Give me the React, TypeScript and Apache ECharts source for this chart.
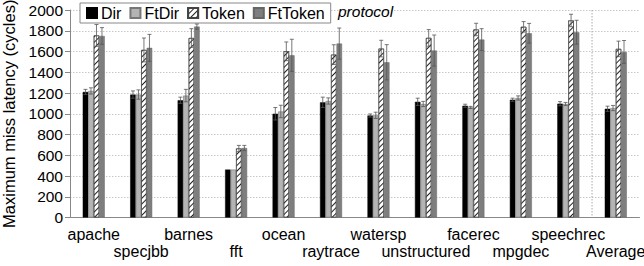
import React, { useEffect, useRef } from "react";
import * as echarts from "echarts";

const categories = ["apache", "specjbb", "barnes", "fft", "ocean", "raytrace", "watersp", "unstructured", "facerec", "mpgdec", "speechrec", "Average"];
const seriesNames = ["Dir", "FtDir", "Token", "FtToken"];
const dirValues = [1210, 1185, 1130, 462, 1000, 1110, 983, 1115, 1077, 1135, 1097, 1048];
const ftDirValues = [1220, 1185, 1175, 462, 1022, 1123, 985, 1094, 1061, 1152, 1094, 1055];
const tokenValues = [1755, 1615, 1730, 665, 1602, 1570, 1628, 1731, 1812, 1838, 1899, 1625];
const ftTokenValues = [1750, 1635, 1840, 670, 1563, 1676, 1496, 1609, 1715, 1776, 1786, 1596];
const dirErr = [25, 35, 30, 0, 60, 50, 15, 35, 15, 15, 20, 25];
const ftDirErr = [30, 45, 60, 0, 60, 30, 30, 25, 10, 20, 15, 25];
const tokenErr = [105, 115, 90, 30, 90, 95, 80, 80, 60, 50, 60, 75];
const ftTokenErr = [80, 130, 25, 25, 155, 150, 170, 150, 105, 95, 115, 110];
const yTicks = { min: 0, max: 2000, interval: 200 };

const FONT = "'Liberation Sans', Arial, Helvetica, sans-serif";
const BAR_W = 5.5;

export default function App() {
  const ref = useRef<HTMLDivElement>(null);
  useEffect(() => {
    if (!ref.current) return;
    const chart = echarts.init(ref.current, null, { renderer: "svg" });
    const values = [dirValues, ftDirValues, tokenValues, ftTokenValues];
    const errs = [dirErr, ftDirErr, tokenErr, ftTokenErr];
    const styles: any[] = [
      { color: "#000", borderColor: "#000", borderWidth: 0.5 },
      { color: "#b4b4b4", borderColor: "#777", borderWidth: 0.6 },
      {
        color: "#fff",
        borderColor: "#444",
        borderWidth: 0.6,
        decal: {
          symbol: "rect",
          symbolSize: 1,
          color: "#222",
          backgroundColor: "#fff",
          dashArrayX: [1, 0],
          dashArrayY: [1, 2.2],
          rotation: -Math.PI / 4,
        },
      },
      { color: "#7e7e7e", borderColor: "#666", borderWidth: 0.5 },
    ];
    const barSeries = seriesNames.map((name, i) => ({
      name,
      type: "bar",
      data: values[i],
      barWidth: BAR_W,
      barGap: "0%",
      itemStyle: styles[i],
      z: 2,
    }));
    const errSeries = seriesNames.map((name, i) => ({
      name: name + " err",
      type: "custom",
      z: 5,
      data: categories.map((_, j) => [j, values[i][j], errs[i][j]]),
      encode: { x: 0, y: 1 },
      renderItem: (params: any, api: any) => {
        const idx = api.value(0);
        const v = api.value(1);
        const e = api.value(2);
        if (!e) return null;
        const top = api.coord([idx, v + e]);
        const bot = api.coord([idx, v - e]);
        const x = top[0] + (i - 1.5) * BAR_W;
        const st = { stroke: "#555", lineWidth: 0.8 };
        return {
          type: "group",
          children: [
            { type: "line", shape: { x1: x, y1: top[1], x2: x, y2: bot[1] }, style: st },
            { type: "line", shape: { x1: x - 2, y1: top[1], x2: x + 2, y2: top[1] }, style: st },
            { type: "line", shape: { x1: x - 2, y1: bot[1], x2: x + 2, y2: bot[1] }, style: st },
          ],
        };
      },
    }));
    chart.setOption({
      animation: false,
      textStyle: { fontFamily: FONT },
      grid: { left: 70, right: 4.5, top: 10, bottom: 48.5, containLabel: false, outerBoundsMode: "none" },
      legend: {
        data: seriesNames,
        left: 80,
        top: 3,
        padding: [2, 6, 2, 6],
        itemWidth: 10,
        itemHeight: 10,
        itemGap: 8,
        borderColor: "#888",
        borderWidth: 1,
        backgroundColor: "#fff",
        icon: "rect",
        textStyle: { fontSize: 16, color: "#000", fontFamily: FONT, padding: [0, 0, 0, -1] },
      },
      xAxis: {
        type: "category",
        data: categories,
        boundaryGap: true,
        axisLine: { lineStyle: { color: "#888", width: 1 } },
        axisTick: { alignWithLabel: true, length: 6, lineStyle: { color: "#999" } },
        axisLabel: {
          interval: 0,
          fontSize: 16,
          color: "#000",
          margin: 8,
          lineHeight: 17,
          formatter: (v: string, i: number) => (i % 2 === 1 ? "\n" + v : v),
        },
        splitLine: { show: false },
      },
      yAxis: {
        type: "value",
        min: yTicks.min,
        max: yTicks.max,
        interval: yTicks.interval,
        name: "Maximum miss latency (cycles)",
        nameLocation: "middle",
        nameGap: 47,
        nameTextStyle: { fontSize: 16.5, color: "#000", fontFamily: FONT },
        axisLine: { show: true, lineStyle: { color: "#888" } },
        axisTick: { show: true, length: 5, lineStyle: { color: "#888" } },
        axisLabel: { fontSize: 15.5, color: "#000", margin: 7, formatter: (v: number) => String(v) },
        splitLine: { show: true, lineStyle: { color: "#c8c8c8", type: [1.5, 1.5], width: 1 } },
      },
      series: [...barSeries, ...errSeries],
    });
    const xa = chart.convertToPixel({ xAxisIndex: 0 }, "speechrec") as number;
    const xb = chart.convertToPixel({ xAxisIndex: 0 }, "Average") as number;
    const yt = chart.convertToPixel({ yAxisIndex: 0 }, yTicks.max) as number;
    const yb = chart.convertToPixel({ yAxisIndex: 0 }, yTicks.min) as number;
    const xm = (xa + xb) / 2;
    chart.setOption({
      graphic: [
        {
          type: "line",
          shape: { x1: xm, y1: yt, x2: xm, y2: yb },
          style: { stroke: "#aaa", lineWidth: 1, lineDash: [1.5, 1.5] },
          z: 1,
        },
        {
          type: "text",
          left: 338,
          top: 3,
          style: { text: "protocol", font: `italic 15.5px ${FONT}`, fill: "#000" },
          z: 10,
        },
      ],
    });
    return () => chart.dispose();
  }, []);
  return <div ref={ref} style={{ width: 644, height: 266, position: "absolute", left: 0, top: 0 }} />;
}
